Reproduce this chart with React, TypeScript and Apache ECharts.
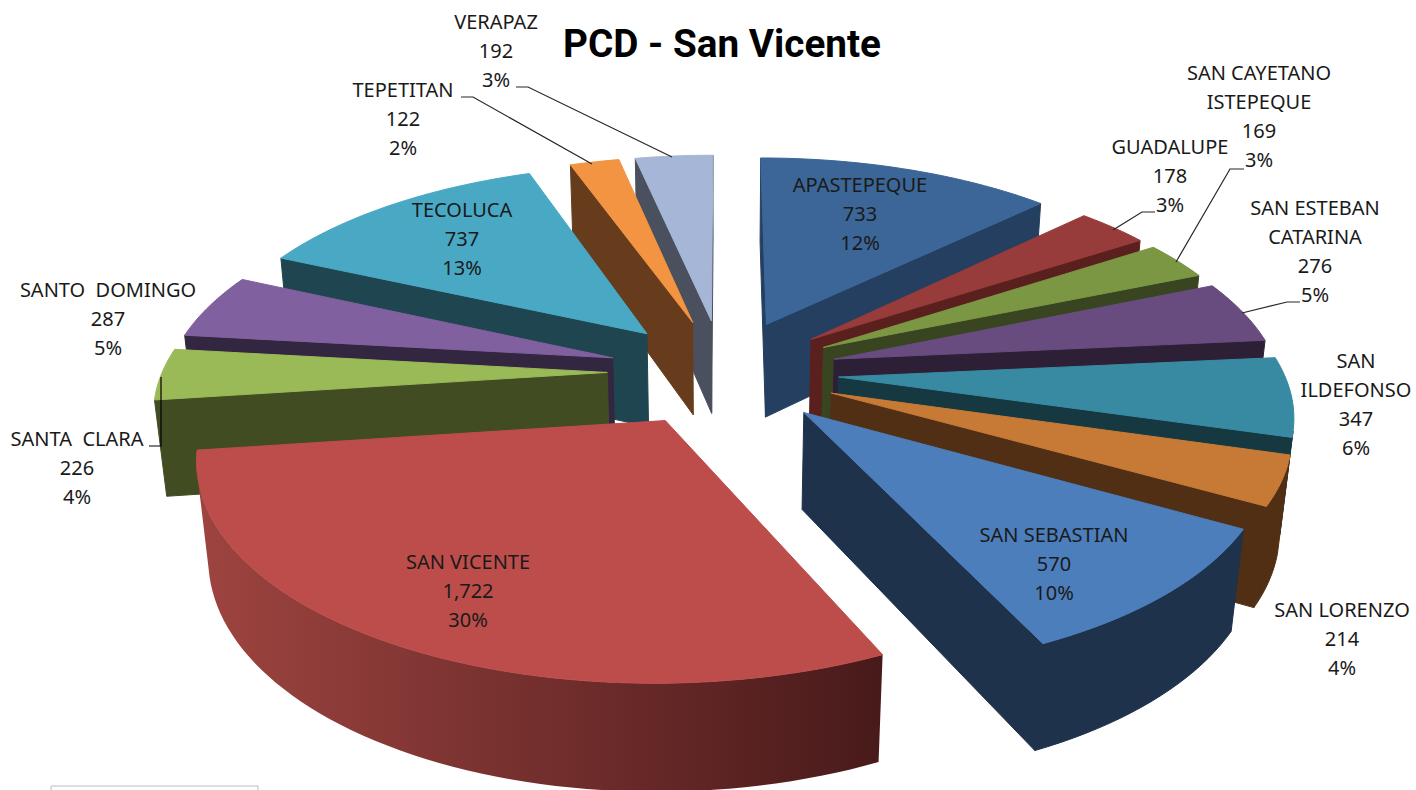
import React, { useEffect, useRef } from "react";
import * as echarts from "echarts";

const categories = ["APASTEPEQUE","GUADALUPE","SAN CAYETANO\nISTEPEQUE","SAN ESTEBAN\nCATARINA","SAN\nILDEFONSO","SAN LORENZO","SAN SEBASTIAN","SAN VICENTE","SANTA  CLARA","SANTO  DOMINGO","TECOLUCA","TEPETITAN","VERAPAZ"];
const values = [733,178,169,276,347,214,570,1722,226,287,737,122,192];
const valueLabels = ["733","178","169","276","347","214","570","1,722","226","287","737","122","192"];
const percentLabels = ["12%","3%","3%","5%","6%","4%","10%","30%","4%","5%","13%","2%","3%"];
const topColors = ["#3B6697","#973C3A","#7B9743","#684C80","#388AA2","#C77A36","#4C7EBB","#BC4D4B","#9ABA58","#80609E","#49A9C4","#F29441","#A6B6D6"];
const wallColors = ["#243F5F","#5A201E","#384520","#2D2036","#163841","#512F15","#1E324B","#9E4440","#414C22","#332640","#1E4550","#663C1C","#4A505E"];
const wallEndColors = ["#243F5F","#5A201E","#384520","#2D2036","#163841","#512F15","#1E324B","#481A1A","#414C22","#332640","#1E4550","#663C1C","#4A505E"];
// block centre of each label
const labelPos = [[860,213],[1170,175],[1259,116],[1315,251],[1356,404],[1342,638],[1054,563],[468,590],[77,467],[108,318],[462,238],[403,118],[496,50]];
const leaders = [
  [[516,87],[528,87],[672,157]],
  [[461,97],[473,97],[592,164]],
  [[1155,212],[1142,212],[1113,230]],
  [[1244,169],[1230,169],[1176,262]],
  [[1300,302],[1287,302],[1242,313]],
];
const claraLeader = [[149,446],[161,446],[161,377]];

const CX = 723, CY = 372, A = 445, B = 205.6, D = 6.5, H = 97, K = 0.14, EXPLODE = 0.26;
const total = values.reduce((s, v) => s + v, 0);
const starts: number[] = [];
values.reduce((s, v, i) => { starts[i] = s; return s + v; }, 0);
const toAngle = (v: number) => (v / total) * Math.PI * 2;

function project(X: number, Y: number, Z: number) {
  const s = D / (D - Y + K * Z);
  return [CX + A * X * s, CY + (B * Y + H * Z) * s];
}
function area(pts: number[][]) {
  let a = 0;
  for (let i = 0; i < pts.length; i++) {
    const p = pts[i], q = pts[(i + 1) % pts.length];
    a += p[0] * q[1] - q[0] * p[1];
  }
  return a;
}

const renderItem = (params: any, api: any) => {
  const i = api.value(0);
  const a0 = toAngle(starts[i]);
  const a1 = a0 + toAngle(api.value(1));
  const m = (a0 + a1) / 2;
  const ox = EXPLODE * Math.sin(m), oy = -EXPLODE * Math.cos(m);
  const rim = (a: number, z: number) => project(ox + Math.sin(a), oy - Math.cos(a), z);
  const apex = (z: number) => project(ox, oy, z);
  const steps = Math.max(6, Math.ceil((a1 - a0) / 0.03));
  const angs: number[] = [];
  for (let s = 0; s <= steps; s++) angs.push(a0 + ((a1 - a0) * s) / steps);
  const children: any[] = [];
  const poly = (points: number[][], fill: any) => children.push({
    type: "polygon", shape: { points },
    style: { fill, stroke: typeof fill === "string" ? fill : "none", lineWidth: 1 },
  });
  const startWall = [apex(0), rim(a0, 0), rim(a0, 1), apex(1)];
  if (area(startWall) < 0) poly(startWall, wallColors[i]);
  const endWall = [apex(0), rim(a1, 0), rim(a1, 1), apex(1)];
  if (area(endWall) > 0) poly(endWall, wallEndColors[i]);
  let run: number[] = [];
  const flush = () => {
    if (run.length > 1) {
      const tops = run.map((a) => rim(a, 0));
      const bots = run.map((a) => rim(a, 1)).reverse();
      const fill = wallColors[i] === wallEndColors[i] ? wallColors[i]
        : new echarts.graphic.LinearGradient(0, 0, 1, 0, [
            { offset: 0, color: wallColors[i] },
            { offset: 1, color: wallEndColors[i] },
          ]);
      poly(tops.concat(bots), fill);
    }
    run = [];
  };
  for (let s = 0; s < steps; s++) {
    const q = [rim(angs[s], 0), rim(angs[s + 1], 0), rim(angs[s + 1], 1), rim(angs[s], 1)];
    if (area(q) < 0) {
      if (!run.length) run.push(angs[s]);
      run.push(angs[s + 1]);
    } else flush();
  }
  flush();
  poly([apex(0)].concat(angs.map((a) => rim(a, 0))), topColors[i]);
  return { type: "group", children };
};

const order = values.map((_, i) => i).sort((p, q) => {
  const mid = (i: number) => toAngle(starts[i] + values[i] / 2);
  return -Math.cos(mid(p)) - -Math.cos(mid(q));
});

const FONT = '"Noto Sans", sans-serif';

export default function App() {
  const ref = useRef<HTMLDivElement>(null);
  useEffect(() => {
    document.body.style.margin = "0";
    const chart = echarts.init(ref.current!, null, { renderer: "svg" });
    const graphic: any[] = [
      { type: "rect", shape: { x: 51, y: 786, width: 207, height: 12 }, style: { fill: "#fff", stroke: "#BDBDBD", lineWidth: 1 }, z: 1 },
      { type: "text", x: 722, y: 43, z: 20, style: { text: "PCD - San Vicente", font: 'bold 38.7px Roboto, sans-serif', fill: "#000", align: "center", verticalAlign: "middle" } },
    ];
    leaders.forEach((pts) => graphic.push({ type: "polyline", z: 10, shape: { points: pts }, style: { stroke: "#262626", lineWidth: 1.2, fill: "none" } }));
    graphic.push({ type: "polyline", z: 10, shape: { points: claraLeader }, style: { stroke: "#000", lineWidth: 1.2, fill: "none" } });
    categories.forEach((c, i) => {
      graphic.push({
        type: "text", x: labelPos[i][0], y: labelPos[i][1], z: 20,
        style: {
          text: `${c}\n${valueLabels[i]}\n${percentLabels[i]}`,
          font: `20px ${FONT}`, lineHeight: 29, fill: "#1A1A1A",
          align: "center", verticalAlign: "middle",
        },
      });
    });
    chart.setOption({
      animation: false,
      backgroundColor: "#fff",
      series: [{
        type: "custom", coordinateSystem: "none", renderItem, silent: true, clip: false,
        data: order.map((i) => [i, values[i]]),
      }],
      graphic,
    });
    return () => chart.dispose();
  }, []);
  return <div ref={ref} style={{ position: "absolute", left: 0, top: 0, width: 1416, height: 790 }} />;
}
